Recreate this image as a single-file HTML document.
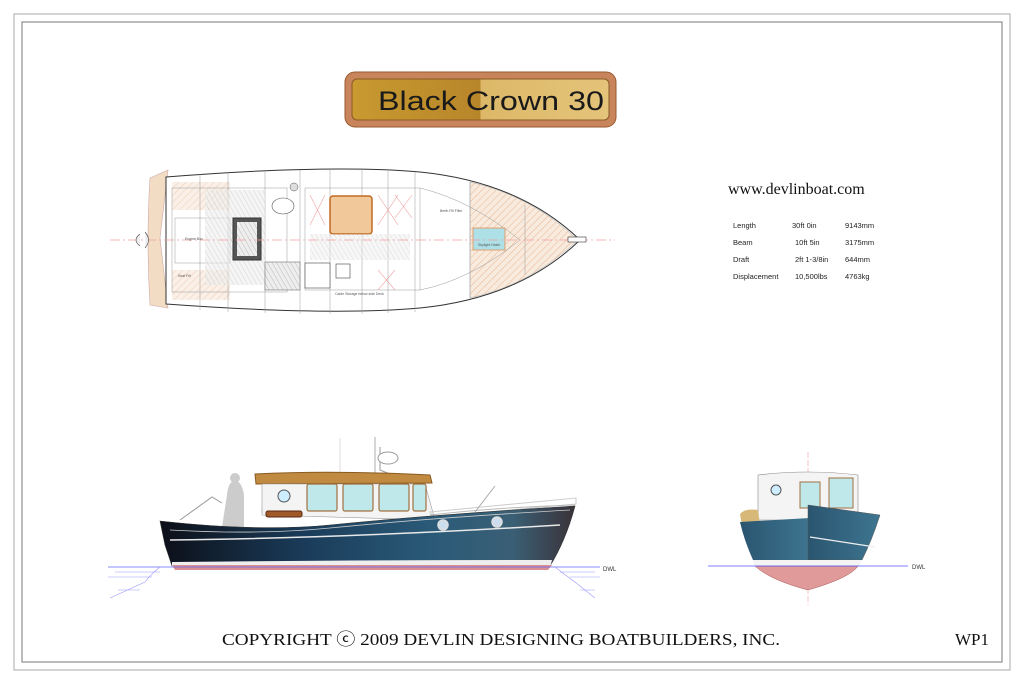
<!DOCTYPE html>
<html><head><meta charset="utf-8"><style>
html,body{margin:0;padding:0;background:#fff;}
svg{display:block;}
</style></head><body>
<svg width="1024" height="683" viewBox="0 0 1024 683" xmlns="http://www.w3.org/2000/svg" font-family="Liberation Sans, sans-serif">
<defs>
<linearGradient id="plq" x1="0" x2="1"><stop offset="0" stop-color="#c89a30"/><stop offset="0.5" stop-color="#b8862a"/><stop offset="0.5" stop-color="#dcb868"/><stop offset="1" stop-color="#e4c47a"/></linearGradient>
<linearGradient id="hull" x1="0" x2="1"><stop offset="0" stop-color="#0c0f18"/><stop offset="0.35" stop-color="#1a3c5a"/><stop offset="0.65" stop-color="#2a5a78"/><stop offset="0.85" stop-color="#3a5f75"/><stop offset="1" stop-color="#3a3238"/></linearGradient>
<linearGradient id="fh" x1="0" x2="1"><stop offset="0" stop-color="#2a5570"/><stop offset="1" stop-color="#3e7590"/></linearGradient>
<pattern id="hatch" width="5" height="5" patternUnits="userSpaceOnUse" patternTransform="rotate(45)"><rect width="5" height="5" fill="#f8eadc"/><line x1="0" y1="0" x2="0" y2="5" stroke="#e8b898" stroke-width="1"/></pattern>
<pattern id="ghat" width="4" height="4" patternUnits="userSpaceOnUse" patternTransform="rotate(-30)"><rect width="4" height="4" fill="#eee"/><line x1="0" y1="0" x2="0" y2="4" stroke="#bbb" stroke-width="1"/></pattern>
</defs>
<rect x="14" y="14" width="996" height="656" fill="none" stroke="#aaa" stroke-width="1"/>
<rect x="22" y="22" width="980" height="640" fill="none" stroke="#777" stroke-width="1"/>

<!-- title plaque -->
<rect x="345" y="72" width="271" height="55" rx="10" fill="#c8845a" stroke="#9a5a30"/>
<rect x="352" y="79" width="257" height="41" rx="5" fill="url(#plq)" stroke="#8a5a28"/>
<text x="378" y="110" font-size="27" fill="#1a1a1a" textLength="226" lengthAdjust="spacingAndGlyphs">Black Crown 30</text>

<!-- specs -->
<text x="728" y="194" font-family="Liberation Serif, serif" font-size="16" fill="#111">www.devlinboat.com</text>
<g font-size="7.5" fill="#222">
<text x="733" y="228">Length</text><text x="792" y="228">30ft 0in</text><text x="845" y="228">9143mm</text>
<text x="733" y="245">Beam</text><text x="795" y="245">10ft 5in</text><text x="845" y="245">3175mm</text>
<text x="733" y="262">Draft</text><text x="795" y="262">2ft 1-3/8in</text><text x="845" y="262">644mm</text>
<text x="733" y="279">Displacement</text><text x="795" y="279">10,500lbs</text><text x="845" y="279">4763kg</text>
</g>

<!-- plan view -->
<g>
<path d="M150 178 L168 170 L160 238 L168 308 L150 305 Q146 240 150 178Z" fill="#f3dcc4" stroke="#caa" stroke-width="0.6"/>
<path d="M166 177 Q330 164 420 172 Q520 182 580 240 Q520 298 420 308 Q330 316 166 304Z" fill="#fff" stroke="#333" stroke-width="1"/>
<path d="M470 182 Q530 195 578 240 Q530 285 470 298Z" fill="url(#hatch)" stroke="#aaa" stroke-width="0.5"/>
<path d="M172 182 L230 182 L230 210 L172 210Z M172 270 L230 270 L230 300 L172 300Z" fill="url(#hatch)" opacity="0.7"/>
<g stroke="#999" stroke-width="0.5" fill="none">
<line x1="200" y1="174" x2="200" y2="310"/><line x1="228" y1="172" x2="228" y2="312"/><line x1="265" y1="171" x2="265" y2="313"/>
<line x1="300" y1="170" x2="300" y2="314"/><line x1="330" y1="170" x2="330" y2="314"/><line x1="362" y1="170" x2="362" y2="314"/>
<line x1="388" y1="171" x2="388" y2="313"/><line x1="415" y1="172" x2="415" y2="312"/><line x1="470" y1="182" x2="470" y2="298"/><line x1="525" y1="205" x2="525" y2="275"/>
<rect x="172" y="188" width="115" height="104"/><rect x="175" y="218" width="55" height="45"/>
<path d="M305 188 L420 188 L420 290 L305 290Z"/><path d="M420 188 Q470 200 520 240 Q470 280 420 290"/>
</g>
<rect x="205" y="190" width="60" height="95" fill="url(#ghat)" opacity="0.6"/>
<rect x="233" y="218" width="28" height="42" fill="#555" stroke="#333"/>
<rect x="237" y="222" width="20" height="34" fill="url(#ghat)"/>
<ellipse cx="283" cy="206" rx="11" ry="8" fill="#fff" stroke="#555" stroke-width="0.6"/>
<circle cx="294" cy="187" r="4" fill="#ddd" stroke="#555" stroke-width="0.5"/>
<rect x="265" y="262" width="35" height="28" fill="url(#ghat)" stroke="#555" stroke-width="0.5"/>
<rect x="330" y="196" width="42" height="38" rx="3" fill="#f0c89a" stroke="#c06a20" stroke-width="1.5"/>
<rect x="310" y="234" width="100" height="26" fill="url(#ghat)" opacity="0.5"/>
<rect x="305" y="263" width="25" height="25" fill="#fff" stroke="#444" stroke-width="0.6"/>
<rect x="336" y="264" width="14" height="14" fill="#fff" stroke="#444" stroke-width="0.6"/>
<rect x="473" y="228" width="32" height="22" fill="#aee0e8" stroke="#e0a070"/>
<g stroke="#f0a0a0" stroke-width="0.6" fill="none">
<path d="M310 195 L325 225 M325 195 L310 225 M378 195 L398 225 M398 195 L378 225 M395 195 L412 218 M412 195 L395 218 M378 270 L395 290 M395 270 L378 290"/>
</g>
<line x1="110" y1="240" x2="615" y2="240" stroke="#f0a0a0" stroke-width="0.8" stroke-dasharray="10 3 2 3"/>
<rect x="568" y="237" width="18" height="5" fill="#fff" stroke="#333" stroke-width="0.6"/>
<path d="M140 234 Q132 240 140 246 M145 232 Q152 240 145 248" stroke="#444" fill="#eee" stroke-width="0.6"/>
<g font-size="3.5" fill="#555">
<text x="185" y="240">Engine Box</text><text x="178" y="277">Seat Fill</text><text x="335" y="295">Cabin Storage below side Deck</text><text x="440" y="212">Berth Fill Filler</text><text x="478" y="246">Skylight Hatch</text>
</g>
</g>

<!-- side view -->
<g>
<line x1="375" y1="437" x2="375" y2="480" stroke="#999" stroke-width="0.8"/>
<path d="M380 447 L380 470 L390 474" stroke="#999" fill="none"/>
<ellipse cx="388" cy="458" rx="10" ry="6" fill="#fff" stroke="#999"/>
<line x1="340" y1="438" x2="340" y2="512" stroke="#bbb" stroke-width="0.5"/>
<path d="M265 478 L282 480 Q285 470 288 476 L288 512 L262 512Z" fill="#fff" stroke="#bbb"/>
<path d="M255 474 Q330 470 430 475 L432 483 L256 484Z" fill="#c08a40" stroke="#8a5a20"/>
<path d="M262 484 L425 484 L435 520 L262 515Z" fill="#f4f4f4" stroke="#999" stroke-width="0.6"/>
<g fill="#bfe8ea" stroke="#a07040" stroke-width="1.2">
<rect x="307" y="484" width="30" height="27" rx="2"/><rect x="343" y="484" width="30" height="27" rx="2"/><rect x="379" y="484" width="30" height="27" rx="2"/><rect x="413" y="484" width="13" height="27" rx="2"/>
</g>
<circle cx="284" cy="496" r="6" fill="#cef" stroke="#555"/>
<rect x="266" y="511" width="36" height="6" rx="2" fill="#a05a2a" stroke="#5a2a10"/>
<path d="M235 480 Q228 482 227 495 L222 527 L244 527 L244 495 Q242 482 235 480Z" fill="#ccc"/>
<circle cx="235" cy="478" r="5" fill="#ccc"/>
<path d="M180 520 L212 497 L222 503" stroke="#999" fill="none"/>
<path d="M430 512 L576 498 L576 504 L433 517Z" fill="none" stroke="#ccc"/>
<path d="M430 515 Q500 507 575 505" stroke="#bbb" fill="none"/>
<line x1="475" y1="512" x2="495" y2="486" stroke="#aaa"/>
<path d="M160 521 Q260 532 330 525 Q430 515 575 506 Q566 540 550 566 L172 566 L165 545Z" fill="url(#hull)" stroke="#333" stroke-width="0.6"/>
<path d="M170 540 Q350 538 560 525" stroke="#e8e8e8" stroke-width="1.5" fill="none"/>
<path d="M170 530 Q260 535 330 528 Q430 518 570 510" stroke="#ccc" stroke-width="0.8" fill="none"/>
<path d="M172 562 Q370 560 552 560 L550 568 L172 567Z" fill="#eee"/>
<path d="M172 565 L552 565 L548 570 L175 570Z" fill="#d89090"/>
<circle cx="443" cy="525" r="5" fill="#cde" stroke="#ddd" stroke-width="1.5"/>
<circle cx="497" cy="522" r="5" fill="#cde" stroke="#ddd" stroke-width="1.5"/>
<line x1="108" y1="567" x2="600" y2="567" stroke="#66f" stroke-width="0.8"/>
<g stroke="#99f" stroke-width="0.6" fill="none">
<path d="M160 567 Q150 575 145 582 L110 598 M115 572 L160 572 M108 577 L152 577 M118 590 L140 590 M555 567 Q565 575 575 582 L595 598 M560 572 L595 572 M570 577 L600 577 M580 590 L595 590"/>
</g>
<text x="603" y="571" font-size="6" fill="#333">DWL</text>
</g>

<!-- front view -->
<g>
<line x1="808" y1="452" x2="808" y2="605" stroke="#f0a0a0" stroke-width="0.6" stroke-dasharray="6 2"/>
<path d="M758 475 Q808 469 858 475 L858 520 L758 520Z" fill="#f4f4f4" stroke="#888" stroke-width="0.6"/>
<path d="M740 514 Q745 508 758 510 L760 525 L742 525Z" fill="#d8b878"/>
<rect x="800" y="482" width="20" height="26" fill="#bfe8ea" stroke="#a07040"/>
<rect x="829" y="478" width="24" height="30" fill="#bfe8ea" stroke="#a07040"/>
<circle cx="776" cy="490" r="5" fill="#cef" stroke="#555"/>
<path d="M740 522 L810 518 L810 560 L753 560 Q744 540 740 522Z" fill="url(#fh)"/>
<path d="M808 505 L880 515 Q872 540 862 560 L808 560Z" fill="url(#fh)" stroke="#555" stroke-width="0.5"/>
<path d="M810 537 L875 547" stroke="#eee" stroke-width="1.2"/>
<path d="M753 560 L862 560 L858 568 L755 568Z" fill="#f4f4f4"/>
<path d="M755 566 L858 566 Q850 578 808 590 Q770 580 755 566Z" fill="#e09a9a" stroke="#a55" stroke-width="0.5"/>
<line x1="708" y1="566" x2="908" y2="566" stroke="#55f" stroke-width="0.8"/>
<text x="912" y="569" font-size="6" fill="#333">DWL</text>
</g>

<text x="222" y="645" font-family="Liberation Serif, serif" font-size="17" fill="#111" textLength="558" lengthAdjust="spacingAndGlyphs">COPYRIGHT ⓒ 2009 DEVLIN DESIGNING BOATBUILDERS, INC.</text>
<text x="972" y="645" text-anchor="middle" font-family="Liberation Serif, serif" font-size="17" fill="#111">WP1</text>
</svg>
</body></html>
